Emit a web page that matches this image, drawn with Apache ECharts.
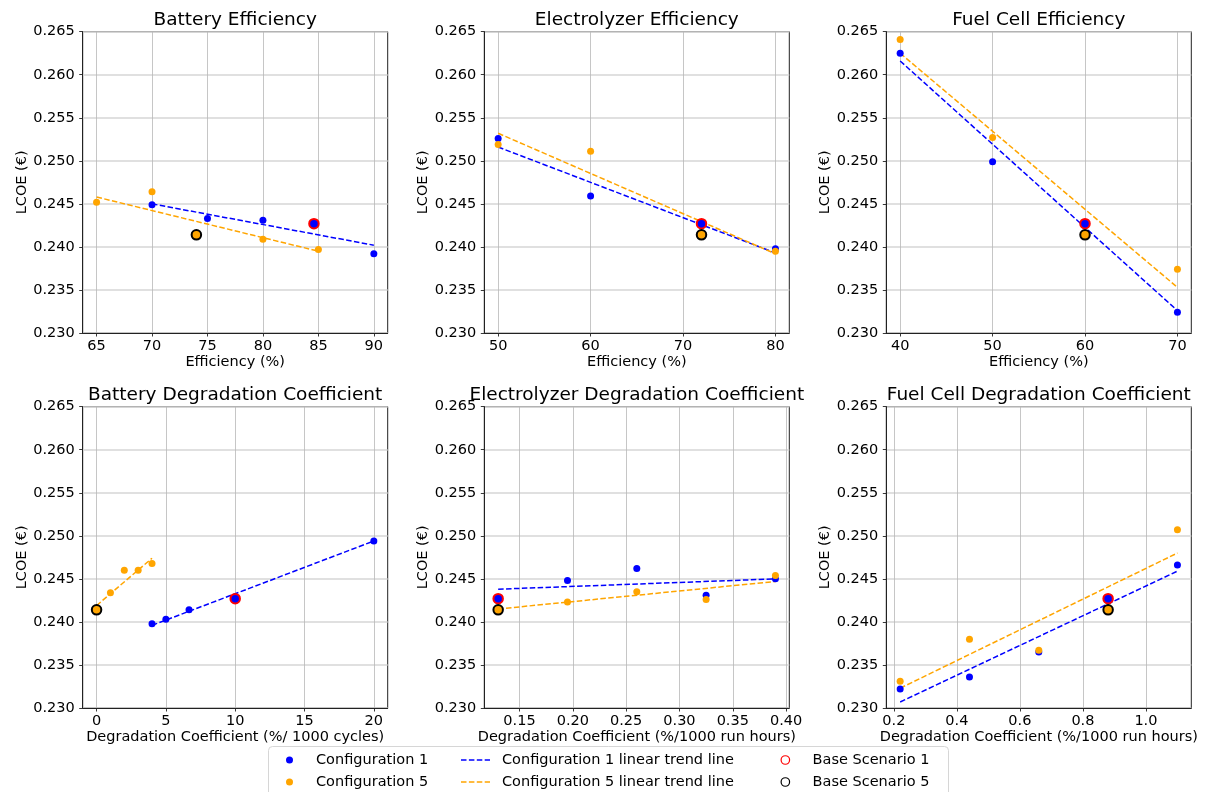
<!DOCTYPE html>
<html>
<head>
<meta charset="utf-8">
<script src="https://cdn.jsdelivr.net/npm/echarts@6/dist/echarts.min.js"></script>
<style>
html,body{margin:0;padding:0;background:#fff;}
#chart{width:1205px;height:792px;}
</style>
</head>
<body>
<div id="chart"></div>
<script>
// ---------- data ----------
const titles = ['Battery Efficiency', 'Electrolyzer Efficiency', 'Fuel Cell Efficiency',
  'Battery Degradation Coefficient', 'Electrolyzer Degradation Coefficient', 'Fuel Cell Degradation Coefficient'];
const xNames = ['Efficiency (%)', 'Efficiency (%)', 'Efficiency (%)',
  'Degradation Coefficient (%/ 1000 cycles)', 'Degradation Coefficient (%/1000 run hours)', 'Degradation Coefficient (%/1000 run hours)'];
const yName = 'LCOE (€)';
const xTicks = [[65, 70, 75, 80, 85, 90], [50, 60, 70, 80], [40, 50, 60, 70],
  [0, 5, 10, 15, 20], [0.15, 0.20, 0.25, 0.30, 0.35, 0.40], [0.2, 0.4, 0.6, 0.8, 1.0]];
const xMin = [63.75, 48.5, 38.5, -1, 0.117, 0.176];
const xMax = [91.25, 81.5, 71.5, 21, 0.403, 1.144];
const xDecimals = [0, 0, 0, 0, 2, 1];
const yMin = 0.230, yMax = 0.265, yStep = 0.005;

const config1X = [
  [70, 75, 80, 84.6, 90],
  [50, 60, 72, 80],
  [40, 50, 60, 70],
  [4, 5, 6.67, 10, 20],
  [0.13, 0.195, 0.26, 0.325, 0.39],
  [0.22, 0.44, 0.66, 0.88, 1.1]];
const config1Y = [
  [0.2449, 0.2433, 0.2431, 0.2427, 0.2392],
  [0.2526, 0.2459, 0.2427, 0.2398],
  [0.2625, 0.2499, 0.2427, 0.2324],
  [0.2398, 0.2403, 0.2414, 0.2427, 0.2494],
  [0.2427, 0.2448, 0.2462, 0.2431, 0.2450],
  [0.2322, 0.2336, 0.2365, 0.2427, 0.2466]];
const config5X = [
  [65, 70, 74, 80, 85],
  [50, 60, 72, 80],
  [40, 50, 60, 70],
  [0, 1, 2, 3, 4],
  [0.13, 0.195, 0.26, 0.325, 0.39],
  [0.22, 0.44, 0.66, 0.88, 1.1]];
const config5Y = [
  [0.2452, 0.2464, 0.2414, 0.2409, 0.2397],
  [0.2519, 0.2511, 0.2414, 0.2395],
  [0.2641, 0.2527, 0.2414, 0.2374],
  [0.2414, 0.2434, 0.2460, 0.2460, 0.2468],
  [0.2414, 0.2423, 0.2435, 0.2426, 0.2454],
  [0.2331, 0.2380, 0.2367, 0.2414, 0.2507]];
const trend1X = [[70, 90], [50, 80], [40, 70], [4, 20], [0.13, 0.39], [0.22, 1.1]];
const trend1Y = [[0.2450, 0.2402], [0.2516, 0.2393], [0.2616, 0.2326], [0.2396, 0.2494], [0.2438, 0.2450], [0.2307, 0.2459]];
const trend5X = [[65, 85], [50, 80], [40, 70], [0, 4], [0.13, 0.39], [0.22, 1.1]];
const trend5Y = [[0.2458, 0.2395], [0.2532, 0.2392], [0.2625, 0.2353], [0.2419, 0.2474], [0.2415, 0.2447], [0.2323, 0.2480]];
const base1X = [84.6, 72, 60, 10, 0.13, 0.88];
const base1Y = [0.2427, 0.2427, 0.2427, 0.2427, 0.2427, 0.2427];
const base5X = [74, 72, 60, 0, 0.13, 0.88];
const base5Y = [0.2414, 0.2414, 0.2414, 0.2414, 0.2414, 0.2414];

const names = {
  c1: 'Configuration 1', c5: 'Configuration 5',
  t1: 'Configuration 1 linear trend line', t5: 'Configuration 5 linear trend line',
  b1: 'Base Scenario 1', b5: 'Base Scenario 5'
};

// ---------- layout / style ----------
const FONT = 'DejaVu Sans';
const FS = 14.5;
const BLUE = '#0000ff', ORANGE = '#ffa500';
const colLeft = [82.7, 484.3, 886.3];
const rowTop = [31.7, 406.7];
const gW = 305, gH = 301.3;

const zip = (xs, ys) => xs.map((x, i) => [x, ys[i]]);

const grid = [], xAxis = [], yAxis = [], series = [], title = [];
for (let i = 0; i < 6; i++) {
  const c = i % 3, r = Math.floor(i / 3);
  grid.push({
    left: colLeft[c], top: rowTop[r], width: gW, height: gH,
    show: true, borderColor: '#222', borderWidth: 1, backgroundColor: '#fff',
    containLabel: false, outerBoundsMode: 'none'
  });
  title.push({
    text: titles[i], left: colLeft[c] + gW / 2, top: rowTop[r] - 21.5, textAlign: 'center', padding: 0,
    textStyle: { fontFamily: FONT, fontSize: 18.5, fontWeight: 'normal', color: '#000' }
  });
  const dec = xDecimals[i];
  xAxis.push({
    type: 'value', gridIndex: i, min: xMin[i], max: xMax[i],
    name: xNames[i], nameLocation: 'middle', nameGap: 21.5,
    nameTextStyle: { fontFamily: FONT, fontSize: FS, color: '#000' },
    axisLine: { show: true, onZero: false, lineStyle: { color: '#222', width: 1 } },
    axisTick: { show: true, length: 3.5, customValues: xTicks[i], lineStyle: { color: '#222', width: 0.9 } },
    axisLabel: { customValues: xTicks[i], margin: 6, fontFamily: FONT, fontSize: FS, color: '#000',
      formatter: v => Number(v).toFixed(dec), showMinLabel: true, showMaxLabel: true, hideOverlap: false },
    splitLine: { show: true, lineStyle: { color: '#b8b8b8', width: 0.8 } }
  });
  yAxis.push({
    type: 'value', gridIndex: i, min: yMin, max: yMax, interval: yStep,
    name: yName, nameLocation: 'middle', nameGap: 51,
    nameTextStyle: { fontFamily: FONT, fontSize: FS, color: '#000' },
    axisLine: { show: true, onZero: false, lineStyle: { color: '#222', width: 1 } },
    axisTick: { show: true, length: 3.5, lineStyle: { color: '#222', width: 0.9 } },
    axisLabel: { margin: 8, fontFamily: FONT, fontSize: FS, color: '#000',
      formatter: v => Number(v).toFixed(3), showMinLabel: true, showMaxLabel: true },
    splitLine: { show: true, lineStyle: { color: '#d6d6d6', width: 1.5 } }
  });
  const dash = [5.5, 2.4];
  series.push({
    name: names.t1, type: 'line', xAxisIndex: i, yAxisIndex: i,
    data: zip(trend1X[i], trend1Y[i]), symbol: 'none', showSymbol: false, silent: true,
    lineStyle: { color: BLUE, width: 1.5, type: dash }, itemStyle: { color: BLUE }, z: 3
  });
  series.push({
    name: names.t5, type: 'line', xAxisIndex: i, yAxisIndex: i,
    data: zip(trend5X[i], trend5Y[i]), symbol: 'none', showSymbol: false, silent: true,
    lineStyle: { color: ORANGE, width: 1.5, type: dash }, itemStyle: { color: ORANGE }, z: 3
  });
  series.push({
    name: names.c1, type: 'scatter', xAxisIndex: i, yAxisIndex: i,
    data: zip(config1X[i], config1Y[i]), symbol: 'circle', symbolSize: 7,
    itemStyle: { color: BLUE, opacity: 1 }, z: 4
  });
  series.push({
    name: names.c5, type: 'scatter', xAxisIndex: i, yAxisIndex: i,
    data: zip(config5X[i], config5Y[i]), symbol: 'circle', symbolSize: 7,
    itemStyle: { color: ORANGE, opacity: 1 }, z: 4
  });
  series.push({
    name: names.b1, type: 'scatter', xAxisIndex: i, yAxisIndex: i,
    data: [[base1X[i], base1Y[i]]], symbol: 'circle', symbolSize: 9.5,
    itemStyle: { color: BLUE, borderColor: '#ff0000', borderWidth: 2, opacity: 1 }, z: 5
  });
  series.push({
    name: names.b5, type: 'scatter', xAxisIndex: i, yAxisIndex: i,
    data: [[base5X[i], base5Y[i]]], symbol: 'circle', symbolSize: 9.5,
    itemStyle: { color: ORANGE, borderColor: '#000000', borderWidth: 2, opacity: 1 }, z: 5
  });
}

const legendText = (pad) => ({ fontFamily: FONT, fontSize: FS, color: '#000', lineHeight: 16, padding: [0, 0, 0, pad] });
const dashPath = 'path://M0,0h5.5v1.5h-5.5z M7.9,0h5.5v1.5h-5.5z M15.8,0h5.5v1.5h-5.5z M23.7,0h5.3v1.5h-5.3z';
const legendTop = 752;
const legend = [
  {
    orient: 'vertical', left: 286, top: legendTop, padding: 0, itemGap: 6,
    itemWidth: 7, itemHeight: 7, selectedMode: false, textStyle: legendText(18),
    data: [
      { name: names.c1, icon: 'circle', itemStyle: { color: BLUE, borderWidth: 0 } },
      { name: names.c5, icon: 'circle', itemStyle: { color: ORANGE, borderWidth: 0 } }
    ]
  },
  {
    orient: 'vertical', left: 461, top: legendTop, padding: 0, itemGap: 6,
    itemWidth: 29, itemHeight: 1.5, selectedMode: false, textStyle: legendText(7),
    data: [
      { name: names.t1, icon: dashPath, itemStyle: { color: BLUE, borderWidth: 0 } },
      { name: names.t5, icon: dashPath, itemStyle: { color: ORANGE, borderWidth: 0 } }
    ]
  },
  {
    orient: 'vertical', left: 780.5, top: legendTop, padding: 0, itemGap: 6,
    itemWidth: 8.5, itemHeight: 8.5, selectedMode: false, textStyle: legendText(18),
    data: [
      { name: names.b1, icon: 'circle', itemStyle: { color: 'rgba(0,0,0,0)', borderColor: '#ff0000', borderWidth: 1.2 } },
      { name: names.b5, icon: 'circle', itemStyle: { color: 'rgba(0,0,0,0)', borderColor: '#000000', borderWidth: 1.2 } }
    ]
  }
];

const option = {
  backgroundColor: '#ffffff',
  animation: false,
  title, grid, xAxis, yAxis, series, legend,
  graphic: [{
    type: 'rect', z: -1, silent: true,
    shape: { x: 268.5, y: 746.5, width: 680, height: 60, r: 4 },
    style: { fill: '#ffffff', stroke: '#d6d6d6', lineWidth: 1 }
  }]
};

const chart = echarts.init(document.getElementById('chart'), null, { renderer: 'canvas' });
chart.setOption(option);
</script>
</body>
</html>
